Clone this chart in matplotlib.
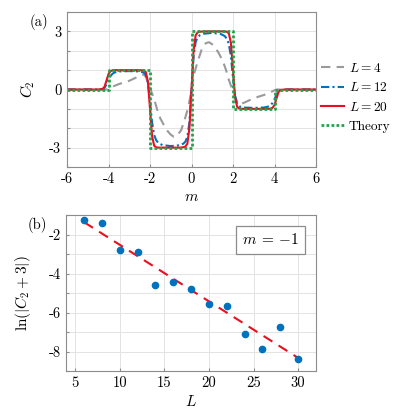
import numpy as np
import matplotlib
matplotlib.use("Agg")
import matplotlib.pyplot as plt

plt.rcParams['font.family'] = 'serif'
plt.rcParams['font.serif'] = ['cmr10', 'DejaVu Serif']
plt.rcParams['mathtext.fontset'] = 'cm'
plt.rcParams['axes.unicode_minus'] = False
plt.rcParams['font.size'] = 10

# ---------------- panel (a) data ----------------
m_fine = [-6, -5, -4.5, -4.3, -4.2, -4.1, -4.0, -3.9, -3.8, -3.7, -3.5, -3.0, -2.5, -2.3, -2.2,
          -2.1, -2.0, -1.9, -1.8, -1.7, -1.6, -1.4, -1.0, -0.6, -0.4, -0.3, -0.2, -0.1, 0.0,
          0.1, 0.2, 0.3, 0.4, 0.6, 1.0, 1.4, 1.6, 1.7, 1.8, 1.9, 2.0, 2.1, 2.2, 2.3, 2.5,
          3.0, 3.5, 3.7, 3.8, 3.9, 4.0, 4.1, 4.2, 4.3, 4.5, 5, 6]

c2_L20 = [0, 0, 0, 0.02, 0.12, 0.45, 0.8, 0.95, 0.99, 1.0, 1.0, 1.0, 1.0, 0.98, 0.9,
          0.4, -1.0, -2.4, -2.9, -2.98, -3.0, -3.0, -3.0, -3.0, -2.98, -2.95, -2.8, -2.0, 0.0,
          2.0, 2.8, 2.95, 2.98, 3.0, 3.0, 3.0, 3.0, 2.98, 2.9, 2.4, 1.0, -0.4, -0.9, -0.98, -1.0,
          -1.0, -1.0, -1.0, -0.99, -0.95, -0.8, -0.45, -0.12, -0.02, 0, 0, 0]

c2_L12 = [0, 0, 0, 0.02, 0.08, 0.25, 0.5, 0.7, 0.82, 0.88, 0.93, 0.95, 0.93, 0.87, 0.75,
          0.35, -0.6, -1.7, -2.35, -2.62, -2.76, -2.87, -2.92, -2.88, -2.8, -2.7, -2.45, -1.7, 0.0,
          1.7, 2.45, 2.7, 2.8, 2.88, 2.92, 2.87, 2.76, 2.62, 2.35, 1.7, 0.6, -0.35, -0.75, -0.87, -0.93,
          -0.95, -0.93, -0.88, -0.82, -0.7, -0.5, -0.25, -0.08, -0.02, 0, 0, 0]

m_L4 = [-6, -5, -4.1, -4.0, -3.8, -3.5, -3.0, -2.6, -2.4, -2.3, -2.2, -2.1, -2.0, -1.9, -1.8,
        -1.65, -1.5, -1.3, -1.15, -1.0, -0.85, -0.7, -0.5, -0.3, -0.15, 0.0,
        0.15, 0.3, 0.5, 0.7, 0.85, 1.0, 1.15, 1.3, 1.5, 1.65, 1.8, 1.9, 2.0, 2.1, 2.2, 2.3,
        2.4, 2.6, 3.0, 3.5, 3.8, 4.0, 4.1, 5, 6]
c2_L4 = [0, 0, 0, 0.04, 0.15, 0.28, 0.45, 0.65, 0.74, 0.77, 0.65, 0.35, 0.05, -0.2, -0.5,
         -1.05, -1.5, -1.9, -2.15, -2.33, -2.44, -2.4, -2.1, -1.45, -0.9, 0.0,
         0.9, 1.45, 2.1, 2.4, 2.44, 2.33, 2.15, 1.9, 1.5, 1.05, 0.5, 0.2, -0.05, -0.35, -0.65, -0.77,
         -0.74, -0.65, -0.45, -0.28, -0.15, -0.04, 0, 0, 0]

m_theory = [-6, -4, -4, -2, -2, 0, 0, 2, 2, 4, 4, 6]
c2_theory = [0, 0, 1, 1, -3, -3, 3, 3, -1, -1, 0, 0]

# ---------------- panel (b) data ----------------
L_vals = [6, 8, 10, 12, 14, 16, 18, 20, 22, 24, 26, 28, 30]
lnC = [-1.26, -1.40, -2.79, -2.91, -4.61, -4.45, -4.81, -5.57, -5.65, -7.11, -7.88, -6.75, -8.39]
fit_L = [6, 30]
fit_vals = [-1.37, -8.33]

gray = '#9a9a9a'
blue = '#0072BD'
red = '#E8101E'
green = '#1FA34A'
spine_c = '#8c8c8c'
grid_c = '#e3e3e3'

fig = plt.figure(figsize=(3.96, 4.17), dpi=100)
W, H = 396.0, 417.0

# ---- panel (a)
ax1 = fig.add_axes([67 / W, 1 - 167 / H, (316 - 67) / W, (167 - 12) / H])
l1, = ax1.plot(m_L4, c2_L4, color=gray, lw=1.5, dashes=(4.5, 3), label=r'$L=4$')
l2, = ax1.plot(m_fine, c2_L12, color=blue, lw=1.5, dashes=(4, 1.5, 1, 1.5), label=r'$L=12$')
l3, = ax1.plot(m_fine, c2_L20, color=red, lw=1.5, label=r'$L=20$')
l4, = ax1.plot(m_theory, c2_theory, color=green, lw=2.0, ls=(0, (1, 0.8)), label='Theory')
ax1.set_xlim(-6, 6)
ax1.set_ylim(-4, 4)
ax1.set_xticks([-6, -4, -2, 0, 2, 4, 6])
ax1.set_xticklabels(['-6', '-4', '-2', '0', '2', '4', '6'])
ax1.set_yticks([-4, -3, -2, -1, 0, 1, 2, 3, 4])
ax1.set_yticklabels(['', '-3', '', '', '0', '', '', '3', ''])
ax1.set_xlabel(r'$m$', fontsize=11, labelpad=3)
ax1.set_ylabel(r'$C_2$', fontsize=11, labelpad=9)
ax1.grid(True, color=grid_c, lw=0.7)
ax1.set_axisbelow(True)
leg = ax1.legend(handles=[l1, l2, l3, l4], loc='upper left', bbox_to_anchor=(1.0, 0.71),
                 frameon=False, handlelength=1.75, handletextpad=0.35, labelspacing=0.5,
                 borderaxespad=0.15, borderpad=0.2, fontsize=9.6)
ax1.text(-0.076, 0.985, '(a)', transform=ax1.transAxes, fontsize=10.5, va='top', ha='right')

# ---- panel (b)
ax2 = fig.add_axes([66.3 / W, 1 - 371 / H, (316 - 66.3) / W, (371 - 215) / H])
ax2.plot(L_vals, lnC, 'o', color=blue, ms=4.5, zorder=3)
ax2.plot(fit_L, fit_vals, color=red, lw=1.5, dashes=(5, 3.5), zorder=2)
ax2.set_xlim(4, 32)
ax2.set_ylim(-9, -1)
ax2.set_xticks([5, 10, 15, 20, 25, 30])
ax2.set_xticklabels(['5', '10', '15', '20', '25', '30'])
ax2.set_yticks([-9, -8, -7, -6, -5, -4, -3, -2, -1])
ax2.set_yticklabels(['', '-8', '', '-6', '', '-4', '', '-2', ''])
ax2.set_xlabel(r'$L$', fontsize=11, labelpad=3)
ax2.set_ylabel(r'$\ln(|C_2+3|)$', fontsize=11, labelpad=11)
ax2.grid(True, color=grid_c, lw=0.7)
ax2.set_axisbelow(True)
ax2.text(0.818, 0.84, r'$m\;=\,{-1}$', transform=ax2.transAxes, fontsize=11, ha='center', va='center',
         bbox=dict(boxstyle='square,pad=0.42', fc='white', ec=spine_c, lw=0.9))
ax2.text(-0.076, 0.985, '(b)', transform=ax2.transAxes, fontsize=10.5, va='top', ha='right')

for ax in (ax1, ax2):
    for s in ax.spines.values():
        s.set_color(spine_c)
        s.set_linewidth(0.8)
    ax.tick_params(direction='in', length=2.5, color=spine_c, labelsize=10.5, pad=4)

fig.savefig('out.png', dpi=100, facecolor='white')
